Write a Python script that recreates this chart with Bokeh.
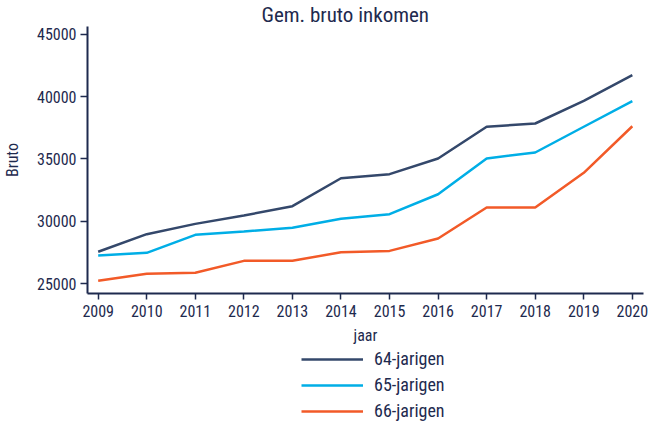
from bokeh.plotting import figure
from bokeh.layouts import column
from bokeh.models import Range1d, Legend, LegendItem, FixedTicker
from bokeh.embed import file_html
from bokeh.resources import INLINE

years = [2009, 2010, 2011, 2012, 2013, 2014, 2015, 2016, 2017, 2018, 2019, 2020]
jarigen64 = [27550, 28960, 29790, 30460, 31210, 33450, 33780, 35040, 37590, 37850, 39670, 41730]
jarigen65 = [27250, 27460, 28910, 29180, 29470, 30200, 30570, 32170, 35040, 35520, 37590, 39650]
jarigen66 = [25220, 25780, 25860, 26820, 26820, 27510, 27620, 28610, 31100, 31100, 33890, 37630]
series_names = ["64-jarigen", "65-jarigen", "66-jarigen"]
y_ticks = [25000, 30000, 35000, 40000, 45000]

FONT = "Roboto Condensed"
NAVY = "#1e2a4e"
colors = ["#34486b", "#00aee6", "#f25a28"]
series = [jarigen64, jarigen65, jarigen66]

p = figure(width=650, height=347, output_backend="svg", toolbar_location=None,
           x_range=Range1d(2008.78, 2020.23), y_range=Range1d(24197, 45640),
           title="Gem. bruto inkomen",
           min_border_left=80, min_border_right=7, min_border_top=0, min_border_bottom=0)

p.title.align = "left"
p.title.offset = 174
p.title.standoff = 0
p.title.text_font = FONT
p.title.text_font_size = "21px"
p.title.text_font_style = "normal"
p.title.text_color = NAVY

p.outline_line_color = None
p.xgrid.grid_line_color = None
p.ygrid.grid_line_color = None

for ax in (p.xaxis[0], p.yaxis[0]):
    ax.axis_line_color = NAVY
    ax.axis_line_width = 2
    ax.major_tick_line_color = NAVY
    ax.major_tick_line_width = 1.5
    ax.major_tick_in = 0
    ax.minor_tick_line_color = None
    ax.major_label_text_font = FONT
    ax.major_label_text_font_size = "16px"
    ax.major_label_text_color = NAVY
    ax.axis_label_text_font = FONT
    ax.axis_label_text_font_size = "16px"
    ax.axis_label_text_font_style = "normal"
    ax.axis_label_text_color = NAVY

p.xaxis.ticker = FixedTicker(ticks=years)
p.xaxis.major_tick_out = 6
p.xaxis.major_label_standoff = 5
p.xaxis.axis_label = "jaar"
p.xaxis.axis_label_standoff = 6

p.yaxis.ticker = FixedTicker(ticks=y_ticks)
p.yaxis.major_tick_out = 7
p.yaxis.major_label_standoff = 4
p.yaxis.axis_label = "Bruto"
p.yaxis.axis_label_standoff = 12

for vals, c in zip(series, colors):
    p.line(years, vals, line_color=c, line_width=2.5)

# legend panel below the chart (its series lie outside its own empty frame)
pl = figure(width=650, height=74, output_backend="svg", toolbar_location=None,
            x_axis_type=None, y_axis_type=None,
            x_range=Range1d(0, 1), y_range=Range1d(0, 1),
            min_border_left=0, min_border_right=0, min_border_top=0, min_border_bottom=0)
pl.outline_line_color = None
pl.xgrid.grid_line_color = None
pl.ygrid.grid_line_color = None
leg_renderers = [pl.line(years, vals, line_color=c, line_width=2.5) for vals, c in zip(series, colors)]

legend = Legend(items=[LegendItem(label=n, renderers=[r]) for n, r in zip(series_names, leg_renderers)],
                location=(214, 0), orientation="vertical",
                border_line_alpha=0, background_fill_alpha=0,
                glyph_width=62, glyph_height=18, label_height=18, label_standoff=11,
                label_text_font=FONT, label_text_font_size="18px", label_text_color=NAVY,
                spacing=5, padding=0, margin=0)
pl.add_layout(legend, "center")

layout = column(p, pl, spacing=0)
open("out.html", "w").write(file_html(layout, INLINE))
